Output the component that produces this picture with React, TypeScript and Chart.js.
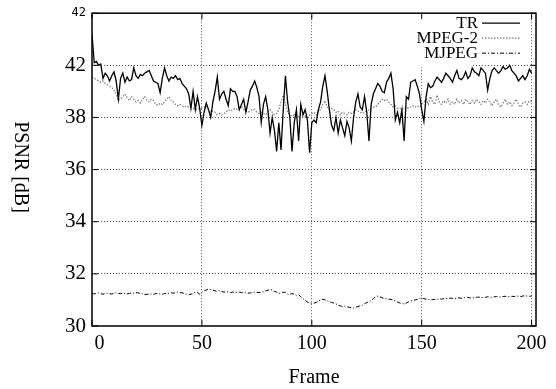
import React, { useEffect, useRef } from 'react';
import { Chart, registerables } from 'chart.js';
Chart.register(...registerables);

const seriesNames = ['TR', 'MPEG-2', 'MJPEG'];

const trPsnr = [
  41.2, 40.1, 40.15, 40.0, 40.05, 39.5, 39.7, 39.6, 39.4, 39.6,
  39.75, 39.4, 38.7, 39.5, 39.7, 39.35, 39.55, 39.4, 39.45, 39.9,
  39.6, 39.5, 39.65, 39.6, 39.7, 39.75, 39.8, 39.6, 39.4, 39.35,
  39.3, 38.95, 39.5, 39.9, 39.6, 39.4, 39.55, 39.5, 39.6, 39.45,
  39.5, 39.3, 39.2, 39.1, 38.9, 38.35, 39.0, 38.3, 38.8, 38.35,
  37.7, 38.2, 38.55, 38.3, 38.0, 38.6, 39.0, 39.55, 38.7, 38.9,
  39.0, 38.7, 38.45, 39.1, 39.0, 39.0, 38.8, 38.3, 38.5, 38.7,
  38.2, 38.6, 39.05, 39.2, 39.4, 39.15, 38.8, 37.8, 38.5, 38.8,
  38.3, 37.4, 38.0, 37.5, 36.7, 37.8, 36.75, 38.3, 39.6, 38.6,
  38.0, 36.7, 37.8, 38.3, 37.1, 38.5, 38.1, 38.3, 37.9, 36.65,
  37.8, 37.9, 37.8, 38.3, 38.6, 39.2, 39.6, 39.0, 38.3, 37.7,
  37.5, 38.0, 37.4, 37.9, 37.6, 37.3, 37.85, 37.6, 37.1, 38.0,
  38.6, 38.9, 38.4, 38.3, 38.8, 38.2, 37.1, 38.5, 38.9, 39.1,
  39.3, 39.2, 39.0, 38.95, 39.35, 39.5, 39.7, 39.1, 37.9, 38.2,
  37.8, 38.3, 37.1, 38.8, 38.7, 39.35, 39.4, 39.45, 39.2, 38.9,
  38.3, 37.85, 38.8, 39.3, 39.15, 39.2, 39.4, 39.55, 39.45, 39.35,
  39.5, 39.7, 39.6, 39.5, 39.35, 39.6, 39.8, 39.5, 39.45, 39.55,
  39.75, 39.5, 39.6, 39.9, 39.75, 39.7, 39.6, 39.9, 39.8, 39.7,
  39.05, 39.5, 39.8, 39.9, 39.8, 39.7, 39.8, 39.95, 39.85, 39.9,
  40.0, 39.8, 39.7, 39.6, 39.4, 39.5, 39.6, 39.45, 39.6, 39.85,
  39.7,
];

const mpeg2Psnr = [
  39.55, 39.5, 39.45, 39.4, 39.35, 39.4, 39.3, 39.25, 39.2, 39.15,
  39.05, 38.9, 38.65, 38.7, 38.8, 38.9, 38.75, 38.65, 38.8, 38.7,
  38.6, 38.65, 38.55, 38.7, 38.8, 38.65, 38.6, 38.7, 38.65, 38.5,
  38.47, 38.55, 38.5, 38.6, 38.7, 38.8, 38.65, 38.6, 38.5, 38.45,
  38.5, 38.45, 38.4, 38.45, 38.4, 38.4, 38.35, 38.3, 38.3, 38.35,
  38.35, 38.4, 38.45, 38.3, 38.2, 38.25, 38.2, 38.1, 38.15, 38.1,
  38.15, 38.2, 38.3, 38.25, 38.3, 38.35, 38.3, 38.35, 38.4, 38.3,
  38.25, 38.2, 38.25, 38.3, 38.3, 38.2, 38.15, 38.2, 38.15, 38.1,
  38.2, 38.3, 38.2, 38.1, 38.15, 38.3, 38.6, 38.85, 38.5, 38.2,
  38.1, 38.05, 38.1, 38.0, 38.05, 38.1, 38.0, 38.05, 38.0, 38.1,
  38.15, 38.2, 38.1, 38.25, 38.3, 38.5, 38.65, 38.4, 38.3, 38.35,
  38.3, 38.2, 38.25, 38.1, 38.2, 38.15, 38.1, 38.2, 38.15, 38.2,
  38.3, 38.25, 38.2, 38.15, 38.2, 38.25, 38.3, 38.35, 38.4, 38.4,
  38.5, 38.6, 38.7, 38.65, 38.7, 38.6, 38.5, 38.4, 38.45, 38.35,
  38.35, 38.3, 38.35, 38.4, 38.35, 38.4, 38.45, 38.4, 38.45, 38.4,
  38.5, 38.6, 38.7, 38.5, 38.8, 38.6, 38.5, 38.85, 38.6, 38.5,
  38.65, 38.55, 38.7, 38.5, 38.6, 38.5, 38.7, 38.55, 38.65, 38.5,
  38.7, 38.6, 38.5, 38.65, 38.55, 38.7, 38.6, 38.5, 38.65, 38.55,
  38.7, 38.6, 38.45, 38.6, 38.7, 38.5, 38.4, 38.55, 38.7, 38.5,
  38.6, 38.45, 38.55, 38.7, 38.5, 38.4, 38.55, 38.6, 38.5, 38.65,
  38.6,
];

const mjpegPsnr = [
  31.25, 31.23, 31.25, 31.27, 31.24, 31.22, 31.25, 31.26, 31.24, 31.23,
  31.25, 31.27, 31.25, 31.24, 31.26, 31.25, 31.23, 31.25, 31.27, 31.26,
  31.28, 31.27, 31.25, 31.24, 31.2, 31.22, 31.21, 31.23, 31.22, 31.24,
  31.25, 31.23, 31.22, 31.24, 31.26, 31.25, 31.27, 31.26, 31.28, 31.3,
  31.28, 31.27, 31.25, 31.22, 31.2, 31.22, 31.25, 31.3, 31.28, 31.22,
  31.3, 31.35, 31.38, 31.42, 31.4, 31.38, 31.35, 31.33, 31.36, 31.33,
  31.3, 31.32, 31.3, 31.28, 31.3, 31.29, 31.28, 31.3, 31.28, 31.27,
  31.28, 31.26, 31.27, 31.28, 31.3, 31.29, 31.28, 31.3, 31.32, 31.35,
  31.37, 31.4, 31.38, 31.33, 31.3, 31.25, 31.27, 31.3, 31.28, 31.22,
  31.2, 31.25, 31.22, 31.18, 31.2, 31.12, 31.05, 30.98, 30.92, 30.88,
  30.87, 30.88, 30.9, 30.95, 31.0, 31.03, 31.0, 30.97, 30.93, 30.9,
  30.88, 30.85, 30.8, 30.77, 30.75, 30.76, 30.74, 30.72, 30.7, 30.69,
  30.72, 30.74, 30.78, 30.8, 30.85, 30.9, 30.92, 30.98, 31.05, 31.12,
  31.15, 31.12, 31.08, 31.06, 31.05, 31.03, 31.02, 31.0, 30.96, 30.92,
  30.88, 30.86, 30.85, 30.88, 30.92, 30.96, 30.98, 31.0, 31.02, 31.05,
  31.07, 31.05, 31.03, 31.02, 31.0, 31.01, 31.02, 31.03, 31.04, 31.03,
  31.05, 31.06, 31.05, 31.07, 31.06, 31.05, 31.07, 31.08, 31.06, 31.08,
  31.09, 31.1, 31.08, 31.07, 31.09, 31.1, 31.11, 31.1, 31.09, 31.1,
  31.12, 31.11, 31.1, 31.12, 31.13, 31.12, 31.11, 31.13, 31.14, 31.12,
  31.13, 31.14, 31.13, 31.15, 31.14, 31.13, 31.15, 31.16, 31.15, 31.14,
  31.15,
];

const xTickValues = [0, 50, 100, 150, 200];
const xTickLabels = ['0', '50', '100', '150', '200'];
const yTickValues = [30, 32, 34, 36, 38, 40, 42];
const yTickLabels = ['30', '32', '34', '36', '38', '42', '42'];
const xTitle = 'Frame';
const yTitle = 'PSNR [dB]';

const SERIF = '"Liberation Serif", "Times New Roman", serif';

const gnuplotPlugin = {
  id: 'gnuplotLook',
  beforeDatasetsDraw(chart: any) {
    const { ctx, chartArea: a } = chart;
    ctx.save();
    ctx.fillStyle = '#ffffff';
    // key backdrop (gnuplot blanks the grid behind the key text)
    ctx.fillRect(a.right - 144, a.top + 2, 80, 52);
    ctx.restore();
  },
  afterDraw(chart: any) {
    const { ctx, chartArea: a, scales } = chart;
    const xs = scales.x;
    const ys = scales.y;
    ctx.save();
    // frame
    ctx.strokeStyle = '#000';
    ctx.lineWidth = 1.5;
    ctx.setLineDash([]);
    ctx.strokeRect(a.left, a.top, a.right - a.left, a.bottom - a.top);
    // inward ticks
    ctx.lineWidth = 1;
    ctx.beginPath();
    xTickValues.forEach((v) => {
      const px = xs.getPixelForValue(v);
      ctx.moveTo(px, a.bottom);
      ctx.lineTo(px, a.bottom - 6);
      ctx.moveTo(px, a.top);
      ctx.lineTo(px, a.top + 6);
    });
    yTickValues.forEach((v) => {
      const py = ys.getPixelForValue(v);
      ctx.moveTo(a.left, py);
      ctx.lineTo(a.left + 6, py);
      ctx.moveTo(a.right, py);
      ctx.lineTo(a.right - 6, py);
    });
    ctx.stroke();
    // key
    ctx.font = '17px ' + SERIF;
    ctx.textAlign = 'right';
    ctx.textBaseline = 'middle';
    ctx.fillStyle = '#000';
    chart.data.datasets.forEach((ds: any, i: number) => {
      const y = a.top + 10 + i * 15;
      ctx.fillText(ds.label, a.right - 58, y);
      ctx.save();
      ctx.strokeStyle = ds.borderColor;
      ctx.lineWidth = ds.borderWidth;
      ctx.setLineDash(ds.borderDash || []);
      ctx.beginPath();
      ctx.moveTo(a.right - 54, y);
      ctx.lineTo(a.right - 16, y);
      ctx.stroke();
      ctx.restore();
    });
    // axis titles
    ctx.font = '20px ' + SERIF;
    ctx.textAlign = 'center';
    ctx.textBaseline = 'middle';
    ctx.fillText(xTitle, (a.left + a.right) / 2, 378);
    ctx.save();
    ctx.translate(20, 167);
    ctx.rotate(Math.PI / 2);
    ctx.fillText(yTitle, 0, 0);
    ctx.restore();
    ctx.restore();
  },
};

export default function App() {
  const canvasRef = useRef<HTMLCanvasElement | null>(null);

  useEffect(() => {
    if (!canvasRef.current) return;
    const toPoints = (arr: number[]) => arr.map((v, i) => ({ x: i, y: v }));
    const chart = new Chart(canvasRef.current, {
      type: 'line',
      data: {
        datasets: [
          {
            label: seriesNames[0],
            data: toPoints(trPsnr),
            borderColor: '#000000',
            borderWidth: 1.3,
            pointRadius: 0,
            tension: 0,
          },
          {
            label: seriesNames[1],
            data: toPoints(mpeg2Psnr),
            borderColor: '#7a7a7a',
            borderWidth: 1.2,
            borderDash: [1.5, 1.5],
            pointRadius: 0,
            tension: 0,
          },
          {
            label: seriesNames[2],
            data: toPoints(mjpegPsnr),
            borderColor: '#000000',
            borderWidth: 1,
            borderDash: [4, 2, 1, 2],
            pointRadius: 0,
            tension: 0,
          },
        ],
      },
      options: {
        animation: false,
        responsive: false,
        devicePixelRatio: 1,
        layout: { padding: { left: 0, right: 20, top: 13, bottom: 0 } },
        plugins: {
          legend: { display: false },
          tooltip: { enabled: false },
          title: { display: false },
        },
        scales: {
          x: {
            type: 'linear',
            min: 0,
            max: 202,
            afterBuildTicks: (s: any) => {
              s.ticks = xTickValues.map((v) => ({ value: v }));
            },
            afterFit: (s: any) => {
              s.height = 63;
            },
            ticks: {
              autoSkip: false,
              maxRotation: 0,
              padding: 6,
              color: '#000',
              font: { family: SERIF, size: 20 },
              callback: (_v: any, i: number) =>
                i === 0 ? '\u00a0\u00a0\u00a0' + xTickLabels[i] : xTickLabels[i],
            },
            grid: {
              drawTicks: false,
              lineWidth: 1,
              color: (c: any) => (c.tick && c.tick.value === 0 ? 'rgba(0,0,0,0)' : '#555555'),
            },
            border: { display: false, dash: [1, 2] },
          },
          y: {
            type: 'linear',
            min: 30,
            max: 42,
            afterBuildTicks: (s: any) => {
              s.ticks = yTickValues.map((v) => ({ value: v }));
            },
            afterFit: (s: any) => {
              s.width = 92;
            },
            ticks: {
              autoSkip: false,
              padding: 6,
              color: '#000',
              font: (c: any) =>
                c.index === yTickValues.length - 1
                  ? { family: '"DejaVu Sans Mono", monospace', size: 12 }
                  : { family: SERIF, size: 21 },
              callback: (_v: any, i: number) => yTickLabels[i],
            },
            grid: {
              drawTicks: false,
              lineWidth: 1,
              color: (c: any) =>
                c.tick && (c.tick.value === 30 || c.tick.value === 42) ? 'rgba(0,0,0,0)' : '#555555',
            },
            border: { display: false, dash: [1, 2] },
          },
        },
      },
      plugins: [gnuplotPlugin],
    });
    return () => chart.destroy();
  }, []);

  return (
    <div style={{ position: 'absolute', left: 0, top: 0, width: 556, height: 389, background: '#fff' }}>
      <canvas ref={canvasRef} width={556} height={389} style={{ width: 556, height: 389 }} />
    </div>
  );
}
